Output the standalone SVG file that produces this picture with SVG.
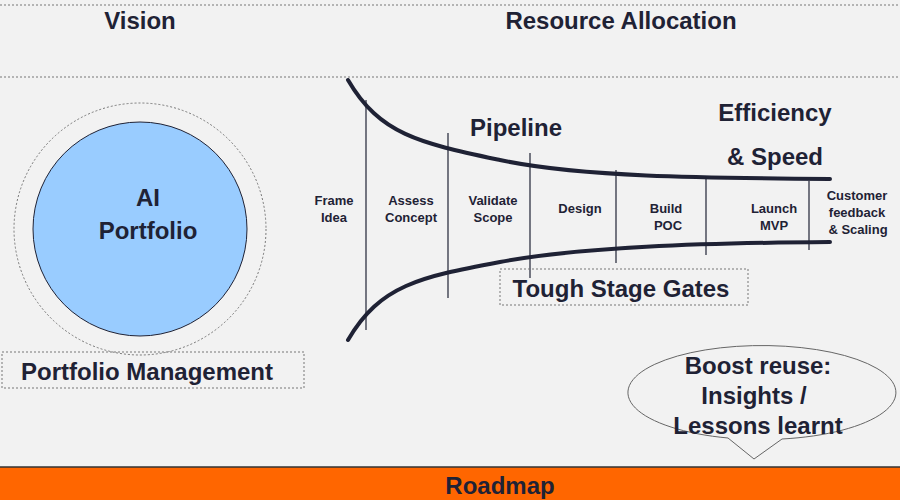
<svg xmlns="http://www.w3.org/2000/svg" width="900" height="500" viewBox="0 0 900 500">
<style>
text{font-family:"Liberation Sans",Arial,sans-serif;font-weight:bold;fill:#1f2235;text-anchor:middle}
.h{font-size:24px}.s{font-size:13px}.m{font-size:24px}
.curve{fill:none;stroke:#1f2235;stroke-width:4;stroke-linecap:round}
.gate{stroke:#1f2235;stroke-width:1.2}
.dot{fill:none;stroke:#777;stroke-width:1;stroke-dasharray:2 2}
</style>
<rect width="900" height="500" fill="#f2f2f2"/>
<line x1="0" y1="5" x2="900" y2="5" class="dot"/>
<line x1="0" y1="77" x2="900" y2="77" class="dot"/>
<g id="headers"><text x="140" y="29" class="h">Vision</text><text x="621" y="29" class="h">Resource Allocation</text></g>
<g id="portfolio">
<circle cx="140" cy="229" r="126" class="dot"/>
<circle cx="140" cy="229" r="107" fill="#99ccff" stroke="#1f2235" stroke-width="1"/>
<text x="148" y="206" class="h">AI</text><text x="148" y="239" class="h">Portfolio</text>
</g>
<g id="pm"><rect x="2" y="352" width="302" height="36" class="dot"/><text x="147" y="380" class="h">Portfolio Management</text></g>
<g id="funnel">
<path class="curve" d="M348,80 C380,135 420,143 500,160 S700,178 830,179"/>
<path class="curve" d="M348,340 C380,285 420,277 500,262 S700,243 830,242"/>
<line class="gate" x1="366" y1="100" x2="366" y2="330"/>
<line class="gate" x1="448" y1="133" x2="448" y2="298"/>
<line class="gate" x1="530" y1="153" x2="530" y2="278"/>
<line class="gate" x1="616" y1="170" x2="616" y2="263"/>
<line class="gate" x1="706" y1="176" x2="706" y2="255"/>
<line class="gate" x1="809" y1="181" x2="809" y2="250"/>
</g>
<g id="stages" class="s">
<text x="334" y="205" class="s">Frame</text><text x="334" y="222" class="s">Idea</text>
<text x="411" y="205" class="s">Assess</text><text x="411" y="222" class="s">Concept</text>
<text x="493" y="205" class="s">Validate</text><text x="493" y="222" class="s">Scope</text>
<text x="580" y="213" class="s">Design</text>
<text x="666" y="213" class="s">Build</text><text x="668" y="230" class="s">POC</text>
<text x="774" y="213" class="s">Launch</text><text x="774" y="230" class="s">MVP</text>
<text x="857" y="200" class="s">Customer</text><text x="857" y="217" class="s">feedback</text><text x="858" y="234" class="s">&amp; Scaling</text>
</g>
<g id="labels">
<text x="516" y="136" class="h">Pipeline</text>
<text x="775" y="121" class="h">Efficiency</text>
<text x="775" y="165" class="h">&amp; Speed</text>
</g>
<g id="gates"><rect x="500" y="269" width="248" height="36" class="dot"/><text x="621" y="297" class="h">Tough Stage Gates</text></g>
<g id="callout">
<path d="M728,438 A134,47 0 1 1 782,439 L754,459 Z" fill="#f2f2f2" stroke="#666" stroke-width="1"/>
<text x="758" y="374" class="m">Boost reuse:</text>
<text x="754" y="404" class="m">Insights /</text>
<text x="758" y="434" class="m">Lessons learnt</text>
</g>
<g id="roadmap"><rect x="0" y="467" width="900" height="33" fill="#ff6600"/><line x1="0" y1="467" x2="900" y2="467" stroke="#333" stroke-width="1.5"/><text x="500" y="494" class="h">Roadmap</text></g>
</svg>
